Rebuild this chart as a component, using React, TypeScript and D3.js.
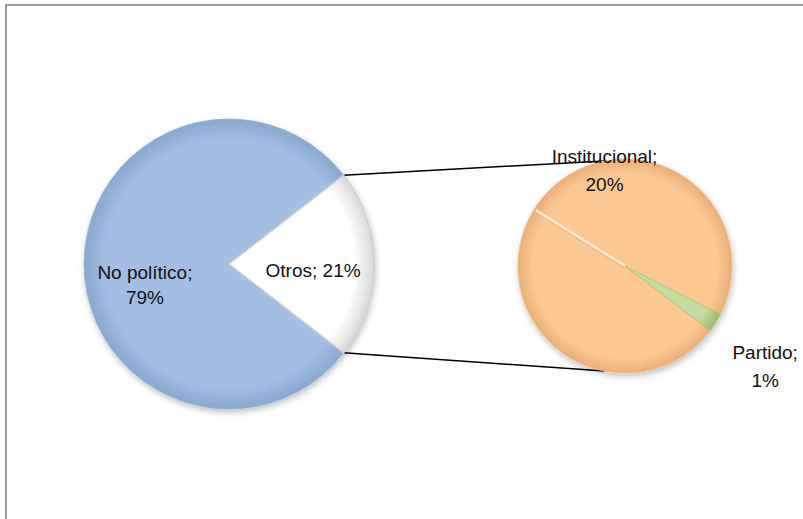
import React from 'react';
import * as d3 from 'd3';

// primary pie
const mainCategories = ['No político', 'Otros'];
const mainValues = [79, 21];
const mainLabels = ['79%', '21%'];

// secondary pie (breakdown of "Otros")
const subCategories = ['Institucional', 'Partido'];
const subValues = [20.4, 0.6];
const subLabels = ['20%', '1%'];

const W = 803;
const H = 519;
const FONT = '"Liberation Sans", Arial, sans-serif';
const FS = 19;

const mainColors = ['#a2bee3', '#ffffff'];
const mainRims = ['#88a8d0', '#d9d9d9'];
const subColors = ['#fbc894', '#c6d9a0'];
const subRims = ['#e9ae76', '#9db86b'];

const deg = Math.PI / 180;

const App: React.FC = () => {
  const main = { cx: 229, cy: 264, r: 145 };
  const sub = { cx: 625, cy: 266, r: 107 };

  const mainTotal = d3.sum(mainValues);
  const otrosShare = mainValues[1] / mainTotal;
  const mainStart = Math.PI / 2 + otrosShare * Math.PI;
  const mainArcs = d3.pie<number>().sort(null)
    .startAngle(mainStart)
    .endAngle(mainStart + 2 * Math.PI)(mainValues);

  const subTotal = d3.sum(subValues);
  const partidoShare = subValues[1] / subTotal;
  const partidoMid = 122 * deg; // where the small slice points
  const subStart = partidoMid + partidoShare * Math.PI;
  const subArcs = d3.pie<number>().sort(null)
    .startAngle(subStart)
    .endAngle(subStart + 2 * Math.PI)(subValues);

  const mainArc = d3.arc<d3.PieArcDatum<number>>().innerRadius(0).outerRadius(main.r);
  const subArc = d3.arc<d3.PieArcDatum<number>>().innerRadius(0).outerRadius(sub.r);
  const mainLabelArc = d3.arc<d3.PieArcDatum<number>>().innerRadius(main.r * 0.58).outerRadius(main.r * 0.58);

  const pt = (c: { cx: number; cy: number }, r: number, a: number) =>
    [c.cx + r * Math.sin(a), c.cy - r * Math.cos(a)];

  // connector lines: Otros slice edges -> secondary pie
  const otros = mainArcs[1];
  const p1 = pt(main, main.r, otros.startAngle);
  const p2 = pt(main, main.r, otros.endAngle);
  const q1 = pt(sub, sub.r, -11 * deg);
  const q2 = pt(sub, sub.r, 191 * deg);

  // label positions of the secondary pie
  const instPos = pt(sub, sub.r * 0.92, -12 * deg);
  const partPos = pt(sub, sub.r * 1.58, (subArcs[1].startAngle + subArcs[1].endAngle) / 2 + 2 * deg);
  const seamEnd = pt(sub, sub.r - 2, partidoMid + Math.PI);

  const label = (x: number, y: number, l1: string, l2: string, key: string, lineH = 28) => (
    <text key={key} x={x} y={y} textAnchor="middle" fontFamily={FONT} fontSize={FS} fill="#111">
      <tspan x={x} dy={-lineH / 2 + 7}>{l1}</tspan>
      <tspan x={x} dy={lineH}>{l2}</tspan>
    </text>
  );

  return (
    <div style={{ position: 'absolute', left: 0, top: 0 }}>
      <svg width={W} height={H} style={{ display: 'block' }}>
        <defs>
          <filter id="shadow" x="-20%" y="-20%" width="140%" height="140%">
            <feDropShadow dx="1" dy="3" stdDeviation="3" floodColor="#000" floodOpacity="0.25" />
          </filter>
          {mainColors.map((c, i) => (
            <radialGradient key={`mg${i}`} id={`mg${i}`} gradientUnits="userSpaceOnUse"
              cx={0} cy={0} r={main.r}>
              <stop offset="0.86" stopColor={c} />
              <stop offset="1" stopColor={mainRims[i]} />
            </radialGradient>
          ))}
          {subColors.map((c, i) => (
            <radialGradient key={`sg${i}`} id={`sg${i}`} gradientUnits="userSpaceOnUse"
              cx={0} cy={0} r={sub.r}>
              <stop offset="0.86" stopColor={c} />
              <stop offset="1" stopColor={subRims[i]} />
            </radialGradient>
          ))}
        </defs>

        <rect x={6} y={5} width={W + 20} height={H + 20} fill="#fff" stroke="#9a9a9a" strokeWidth={2} />

        <line x1={p1[0]} y1={p1[1]} x2={q1[0]} y2={q1[1]} stroke="#000" strokeWidth={1.5} />
        <line x1={p2[0]} y1={p2[1]} x2={q2[0]} y2={q2[1]} stroke="#000" strokeWidth={1.5} />

        <g transform={`translate(${main.cx},${main.cy})`} filter="url(#shadow)">
          {mainArcs.map((a, i) => (
            <path key={mainCategories[i]} d={mainArc(a) || ''} fill={`url(#mg${i})`}
              stroke={i === 1 ? '#d0d0d0' : '#96b4da'} strokeWidth={i === 1 ? 1.5 : 0.8} />
          ))}
        </g>

        <g transform={`translate(${sub.cx},${sub.cy})`} filter="url(#shadow)">
          {subArcs.map((a, i) => (
            <path key={subCategories[i]} d={subArc(a) || ''} fill={`url(#sg${i})`}
              stroke={i === 1 ? '#a9c27a' : '#f2bb85'} strokeWidth={0.8} />
          ))}
          <line x1={0} y1={0} x2={seamEnd[0] - sub.cx} y2={seamEnd[1] - sub.cy} stroke="#fde9cf" strokeWidth={2.5} />
          <line x1={0} y1={2} x2={seamEnd[0] - sub.cx} y2={seamEnd[1] - sub.cy + 2.5} stroke="#eab07a" strokeWidth={1.5} strokeOpacity={0.6} />
        </g>

        {mainArcs.map((a, i) => {
          const [dx, dy] = mainLabelArc.centroid(a);
          const x = main.cx + dx;
          const y = main.cy + dy;
          if (i === 0) return label(x, y + 20, `${mainCategories[i]};`, mainLabels[i], mainCategories[i], 25);
          return (
            <text key={mainCategories[i]} x={x} y={y + 13} textAnchor="middle" fontFamily={FONT} fontSize={FS} fill="#111">
              {`${mainCategories[i]}; ${mainLabels[i]}`}
            </text>
          );
        })}

        {label(instPos[0], instPos[1], `${subCategories[0]};`, subLabels[0], subCategories[0])}
        {label(partPos[0], partPos[1] + 5, `${subCategories[1]};`, subLabels[1], subCategories[1])}
      </svg>
    </div>
  );
};

export default App;
